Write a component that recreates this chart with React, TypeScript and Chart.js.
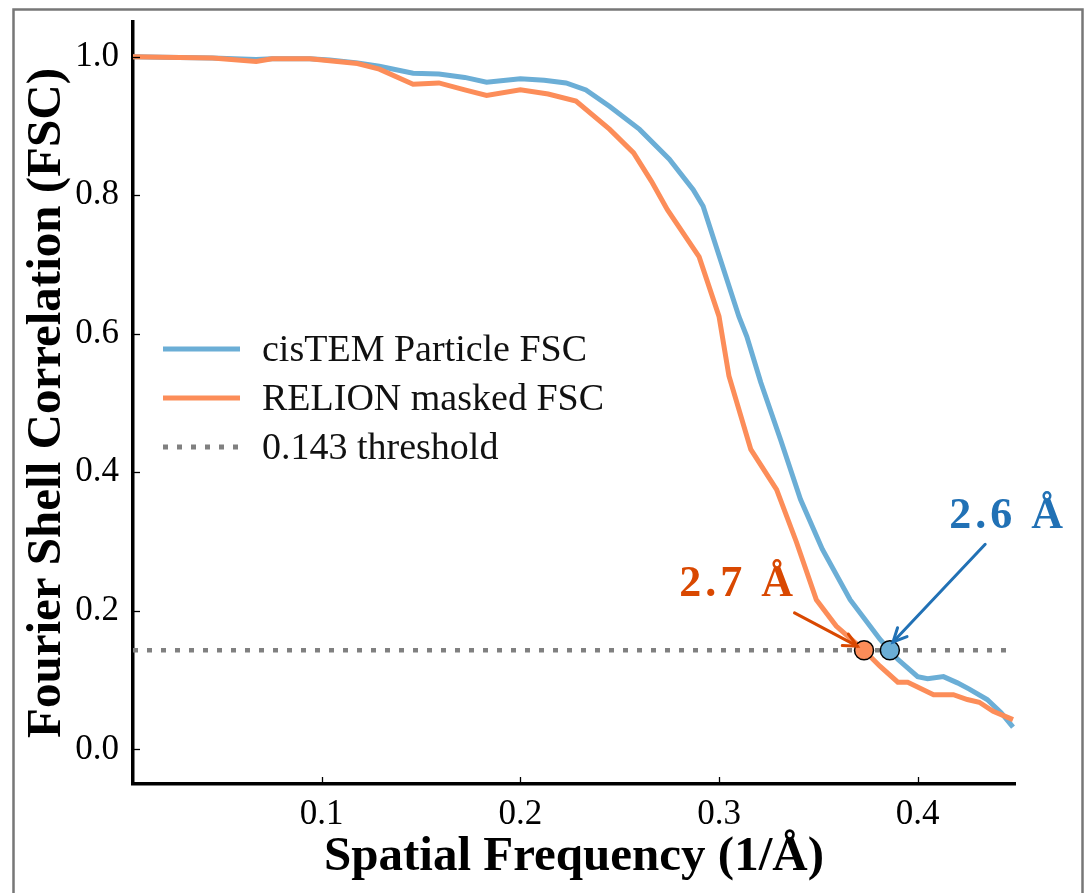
import React, { useEffect, useRef } from "react";
import { Chart, registerables } from "chart.js";

Chart.register(...registerables);

// ---------------- data ----------------
const cistemX = [0.005, 0.02, 0.045, 0.067, 0.075, 0.094, 0.104, 0.118, 0.129, 0.146, 0.159, 0.172, 0.183, 0.2, 0.212, 0.223, 0.233, 0.245, 0.26, 0.275, 0.287, 0.292, 0.299, 0.31, 0.314, 0.321, 0.331, 0.341, 0.352, 0.366, 0.381, 0.386, 0.39, 0.4, 0.405, 0.413, 0.42, 0.426, 0.435, 0.442, 0.448];
const cistemY = [1.0, 0.999, 0.998, 0.996, 0.997, 0.997, 0.995, 0.991, 0.986, 0.976, 0.975, 0.97, 0.963, 0.968, 0.966, 0.962, 0.952, 0.928, 0.895, 0.852, 0.808, 0.784, 0.722, 0.625, 0.596, 0.53, 0.447, 0.361, 0.289, 0.216, 0.159, 0.143, 0.13, 0.105, 0.102, 0.105, 0.096, 0.087, 0.072, 0.053, 0.032];
const relionX = [0.005, 0.02, 0.045, 0.067, 0.075, 0.094, 0.104, 0.118, 0.129, 0.146, 0.159, 0.172, 0.183, 0.2, 0.214, 0.228, 0.245, 0.257, 0.266, 0.274, 0.29, 0.3, 0.305, 0.316, 0.329, 0.339, 0.349, 0.359, 0.373, 0.381, 0.39, 0.395, 0.408, 0.418, 0.425, 0.431, 0.438, 0.448];
const relionY = [1.0, 0.999, 0.998, 0.993, 0.997, 0.997, 0.994, 0.99, 0.982, 0.96, 0.962, 0.952, 0.944, 0.952, 0.946, 0.936, 0.895, 0.861, 0.82, 0.779, 0.711, 0.625, 0.539, 0.433, 0.375, 0.299, 0.216, 0.178, 0.143, 0.12, 0.097, 0.097, 0.079, 0.079, 0.072, 0.068, 0.055, 0.043];
const thresholdValue = 0.143;
const thresholdX = [0.005, 0.446];
const crossingX = [0.386, 0.373]; // cisTEM, RELION
const crossingLabels = ["2.6 Å", "2.7 Å"];
const labelX = [0.4456, 0.3096];
const labelY = [0.319, 0.221];
const arrowFromX = [0.434, 0.338];
const arrowFromY = [0.296, 0.197];
const arrowToX = [0.3876, 0.3696];
const arrowToY = [0.155, 0.149];
const xTicks = [0.1, 0.2, 0.3, 0.4];
const yTicks = [0.0, 0.2, 0.4, 0.6, 0.8, 1.0];
const legendLabels = ["cisTEM Particle FSC", "RELION masked FSC", "0.143 threshold"];

// ---------------- styles ----------------
const BLUE = "#6baed6";
const ORANGE = "#fc8d59";
const BLUE_DARK = "#2171b5";
const ORANGE_DARK = "#d94801";
const GRAY = "#808080";
const FONT = "'Liberation Serif', 'DejaVu Serif', serif";

const pts = (xs: number[], ys: number[]) => xs.map((x, i) => ({ x, y: ys[i] }));

const decorPlugin = {
  id: "decor",
  beforeDraw(chart: any) {
    const { ctx, width, height } = chart;
    ctx.save();
    ctx.fillStyle = "#ffffff";
    ctx.fillRect(0, 0, width, height);
    ctx.strokeStyle = "#777777";
    ctx.lineWidth = 2.5;
    ctx.strokeRect(13.5, 9.5, 1069, 1000);
    ctx.restore();
  },
  afterDatasetsDraw(chart: any) {
    const { ctx, chartArea } = chart;
    const xs = chart.scales.x;
    const ys = chart.scales.y;
    ctx.save();
    // inward ticks
    ctx.strokeStyle = "#000";
    ctx.lineWidth = 1.3;
    xTicks.forEach((v) => {
      const px = Math.round(xs.getPixelForValue(v)) + 0.5;
      ctx.beginPath();
      ctx.moveTo(px, chartArea.bottom);
      ctx.lineTo(px, chartArea.bottom - 7);
      ctx.stroke();
    });
    yTicks.forEach((v) => {
      const py = Math.round(ys.getPixelForValue(v)) + 0.5;
      ctx.beginPath();
      ctx.moveTo(chartArea.left, py);
      ctx.lineTo(chartArea.left + 7, py);
      ctx.stroke();
    });

    // arrows
    const colors = [BLUE_DARK, ORANGE_DARK];
    for (let i = 0; i < 2; i++) {
      const x0 = xs.getPixelForValue(arrowFromX[i]);
      const y0 = ys.getPixelForValue(arrowFromY[i]);
      const x1 = xs.getPixelForValue(arrowToX[i]);
      const y1 = ys.getPixelForValue(arrowToY[i]);
      ctx.strokeStyle = colors[i];
      ctx.lineWidth = 3;
      ctx.lineCap = "round";
      ctx.beginPath();
      ctx.moveTo(x0, y0);
      ctx.lineTo(x1, y1);
      ctx.stroke();
      const ang = Math.atan2(y1 - y0, x1 - x0);
      const L = 15;
      const a = 0.45;
      ctx.beginPath();
      ctx.moveTo(x1 - L * Math.cos(ang - a), y1 - L * Math.sin(ang - a));
      ctx.lineTo(x1, y1);
      ctx.lineTo(x1 - L * Math.cos(ang + a), y1 - L * Math.sin(ang + a));
      ctx.stroke();
      // label
      ctx.fillStyle = colors[i];
      ctx.font = `bold 44px ${FONT}`;
      (ctx as any).letterSpacing = "4px";
      ctx.textAlign = "center";
      ctx.textBaseline = "alphabetic";
      ctx.fillText(crossingLabels[i], xs.getPixelForValue(labelX[i]), ys.getPixelForValue(labelY[i]));
      (ctx as any).letterSpacing = "0px";
    }

    // legend
    const lx0 = chartArea.left + 30;
    const lx1 = chartArea.left + 107;
    const tx = chartArea.left + 129;
    const rows = [chartArea.top + 327, chartArea.top + 376, chartArea.top + 425];
    const lcolors = [BLUE, ORANGE, GRAY];
    ctx.font = `38px ${FONT}`;
    ctx.textAlign = "left";
    ctx.textBaseline = "middle";
    for (let i = 0; i < 3; i++) {
      ctx.strokeStyle = lcolors[i];
      ctx.lineCap = "butt";
      ctx.lineWidth = 5;
      ctx.setLineDash(i === 2 ? [5, 9] : []);
      ctx.beginPath();
      ctx.moveTo(lx0, rows[i]);
      ctx.lineTo(lx1, rows[i]);
      ctx.stroke();
      ctx.setLineDash([]);
      ctx.fillStyle = "#111";
      ctx.fillText(legendLabels[i], tx, rows[i] + 2);
    }
    ctx.restore();
  },
};

export default function App() {
  const ref = useRef<HTMLCanvasElement | null>(null);
  useEffect(() => {
    if (!ref.current) return;
    const chart = new Chart(ref.current, {
      type: "scatter",
      data: {
        datasets: [
          {
            label: "markers",
            data: [
              { x: crossingX[1], y: thresholdValue },
              { x: crossingX[0], y: thresholdValue },
            ],
            pointRadius: 9.5,
            pointBackgroundColor: [ORANGE, BLUE],
            pointBorderColor: "#000",
            pointBorderWidth: 1.5,
            showLine: false,
            order: 0,
          },
          {
            label: legendLabels[0],
            data: pts(cistemX, cistemY),
            showLine: true,
            borderColor: BLUE,
            borderWidth: 5,
            pointRadius: 0,
            order: 2,
          },
          {
            label: legendLabels[1],
            data: pts(relionX, relionY),
            showLine: true,
            borderColor: ORANGE,
            borderWidth: 5,
            pointRadius: 0,
            order: 1,
          },
          {
            label: legendLabels[2],
            data: thresholdX.map((x) => ({ x, y: thresholdValue })),
            showLine: true,
            borderColor: GRAY,
            borderWidth: 4.5,
            borderDash: [5, 9],
            borderCapStyle: "butt",
            pointRadius: 0,
            order: 3,
          },
        ],
      },
      options: {
        animation: false,
        responsive: false,
        devicePixelRatio: 1,
        layout: { padding: { left: 0, top: 22, right: 71, bottom: 0 } },
        plugins: { legend: { display: false }, tooltip: { enabled: false } },
        scales: {
          x: {
            type: "linear",
            min: 0.005,
            max: 0.449,
            afterFit: (s: any) => {
              s.height = 109;
              s.paddingLeft = 0;
              s.paddingRight = 0;
            },
            afterBuildTicks: (s: any) => {
              s.ticks = xTicks.map((v) => ({ value: v }));
            },
            grid: { display: false, drawTicks: false },
            border: { display: true, color: "#000", width: 3.5 },
            ticks: {
              color: "#000",
              padding: 10,
              maxRotation: 0,
              font: { family: FONT, size: 35 },
              callback: (v: any) => Number(v).toFixed(1),
            },
            title: {
              display: true,
              text: "Spatial Frequency (1/Å)",
              color: "#000",
              font: { family: FONT, size: 49, weight: "bold" },
              padding: { top: 0, bottom: 6 },
            },
          },
          y: {
            type: "linear",
            min: -0.05,
            max: 1.05,
            afterFit: (s: any) => {
              s.width = 133;
              s.paddingTop = 0;
              s.paddingBottom = 0;
            },
            afterBuildTicks: (s: any) => {
              s.ticks = yTicks.map((v) => ({ value: v }));
            },
            grid: { display: false, drawTicks: false },
            border: { display: true, color: "#000", width: 3.5 },
            ticks: {
              color: "#000",
              padding: 14,
              font: { family: FONT, size: 35 },
              callback: (v: any) => Number(v).toFixed(1),
            },
            title: {
              display: true,
              text: "Fourier Shell Correlation (FSC)",
              color: "#000",
              font: { family: FONT, size: 49, weight: "bold" },
              padding: { top: 18, bottom: 0 },
            },
          },
        },
      },
      plugins: [decorPlugin],
    });
    return () => chart.destroy();
  }, []);
  return (
    <div style={{ position: "absolute", left: 0, top: 0, width: 1086, height: 893 }}>
      <canvas ref={ref} width={1086} height={893} style={{ display: "block", width: 1086, height: 893 }} />
    </div>
  );
}
